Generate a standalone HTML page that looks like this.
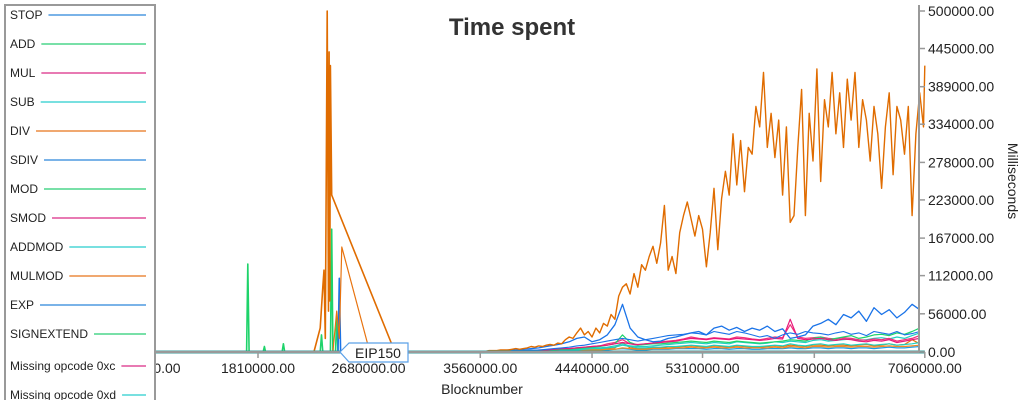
<!DOCTYPE html>
<html><head><meta charset="utf-8"><style>
body{margin:0;width:1024px;height:400px;overflow:hidden;background:#fff;font-family:"Liberation Sans",sans-serif}
svg{position:absolute;left:0;top:0}
</style></head><body>
<svg id="chart" width="1024" height="400">
<text x="512" y="35" text-anchor="middle" font-size="24" font-weight="bold" fill="#333">Time spent</text>
<g id="plot"></g>
<g id="axes"></g>
<g id="legend"></g>
</svg>
<script>
const xTicks=[940000,1810000,2680000,3560000,4440000,5310000,6190000,7060000];
const yTicks=[0,56000,112000,167000,223000,278000,334000,389000,445000,500000];
const legendNames=["STOP","ADD","MUL","SUB","DIV","SDIV","MOD","SMOD","ADDMOD","MULMOD","EXP","SIGNEXTEND","Missing opcode 0xc","Missing opcode 0xd"];
const legendColors=["#7ab3e8","#78e0a8","#e87ab3","#78e0e0","#f0a870"];
// fine grid for DIV (start 3300000, step 30000), values in thousands
const divStart=3300000, divStep=30000;
const divValues=[0,0,0,0,0,0,0,0,1,1,1,2,2,2,3,3,3,4,5,4,5,6,8,7,9,8,10,11,10,13,12,18,22,20,28,35,25,30,22,35,28,42,38,55,48,82,95,100,85,115,95,128,120,140,155,130,160,215,120,140,115,175,200,220,195,170,200,180,125,175,240,150,225,265,230,320,245,310,235,300,290,360,330,410,300,350,285,340,230,330,190,200,300,385,200,350,280,415,250,370,330,410,320,380,300,400,340,410,300,370,340,280,360,320,240,330,380,260,360,340,290,360,200,320,380,330,420];
// early spikes
const spikeBlocks=[940000,2250000,2300000,2320000,2330000,2340000,2355000,2365000,2370000,2375000,2380000,2390000,2888000];
const spikeValues=[0,0,35,95,120,20,500,60,440,75,420,230,0];
const spike2Blocks=[2400000,2430000,2450000,2470000,2690000,3300000];
const spike2Values=[0,60,20,154,0,0];
const greenBlocks=[940000,1720000,1730000,1740000,1850000,1860000,1870000,2000000,2010000,2020000,2300000,2310000,2320000,2380000,2390000,2400000,2420000,2430000,2440000,3300000];
const greenValues=[0,0,129,0,0,8,0,0,12,0,0,25,0,0,180,0,0,50,0,0];
const blueSpikeBlocks=[940000,2440000,2450000,2460000,2470000,3300000];
const blueSpikeValues=[0,0,108,0,0,0];
// coarse grid for small series (start 3300000, step 60000)
const cStart=3300000, cStep=60000;
const stopValues=[0,0,0,1,1,1,2,2,3,3,4,5,6,8,10,12,15,20,22,15,18,25,40,70,35,22,18,15,16,20,22,25,28,30,25,35,38,32,36,30,35,32,38,30,34,20,22,25,38,42,48,40,55,50,60,45,65,55,62,50,58,70,62];
const sdivValues=[0,0,0,0,1,1,1,1,2,2,2,3,3,4,5,6,7,9,10,12,14,16,18,20,18,16,18,20,22,24,25,26,28,27,25,30,28,26,30,28,25,22,24,20,25,28,26,30,28,27,25,28,30,26,28,24,30,28,26,30,25,27,30];
const mulValues=[0,0,0,0,0,1,1,1,1,2,2,2,3,3,4,5,5,6,7,8,9,10,12,14,12,11,12,13,14,15,16,18,20,19,18,20,19,18,20,19,18,17,18,20,19,48,20,18,19,20,18,17,19,18,16,15,17,16,18,14,16,18,20];
const addValues=[0,0,0,0,0,0,1,1,1,1,2,2,2,3,3,4,4,5,6,7,8,10,12,25,14,10,11,12,12,13,14,15,16,15,14,16,15,14,16,15,14,13,14,15,16,18,17,16,20,22,18,20,22,24,20,22,25,26,24,28,26,30,35];
const subValues=[0,0,0,0,0,0,0,1,1,1,1,1,2,2,2,3,3,3,4,5,5,6,7,10,8,6,6,7,7,8,8,9,10,9,8,10,9,8,10,9,8,8,9,10,9,12,10,9,11,12,10,11,12,10,11,12,10,11,12,10,11,12,14];
const modValues=[0,0,0,0,0,0,0,0,1,1,1,1,1,1,2,2,2,2,3,3,3,4,4,6,5,4,4,5,5,5,6,6,7,6,6,7,6,6,7,6,6,6,6,7,6,8,7,6,8,8,7,8,8,7,8,8,7,8,9,8,8,9,10];
const smodValues=[0,0,0,0,0,0,1,1,1,1,2,2,2,3,3,4,5,6,7,8,9,12,14,18,12,10,12,13,15,16,17,19,22,20,19,21,20,19,22,21,19,18,20,22,21,40,22,20,21,22,20,19,21,20,18,17,19,18,20,16,18,20,24];
const addmodValues=[0,0,0,0,0,0,0,0,1,1,1,2,2,2,3,3,4,4,5,6,6,7,9,12,9,8,8,9,10,11,12,13,14,13,12,14,13,12,15,14,13,12,13,15,14,16,15,14,17,18,16,17,18,19,17,18,20,21,19,22,20,24,28];
const mulmodValues=[0,0,0,0,0,0,0,0,0,1,1,1,1,2,2,2,3,3,3,4,4,5,6,14,6,5,5,6,6,7,7,8,9,8,7,9,8,7,9,8,7,7,8,9,8,10,9,8,10,10,9,10,10,9,10,11,9,10,12,10,11,18,12];
const expValues=[0,0,0,0,0,0,0,0,0,0,1,1,1,1,2,2,2,2,3,3,3,3,4,5,4,3,3,4,4,4,5,5,5,5,4,5,5,4,5,5,4,4,5,5,5,6,5,5,6,6,5,6,6,5,6,6,5,6,7,6,6,7,8];

const X0=258, XPX=110.5/870000, Y0=352, YPX=341/500000;
const xs=b=>X0+(b-1810000)*XPX;
const ys=v=>Y0-v*YPX;
const NS="http://www.w3.org/2000/svg";
const plot=document.getElementById('plot');
const axes=document.getElementById('axes');
const leg=document.getElementById('legend');
function mk(tag,attrs,parent){const e=document.createElementNS(NS,tag);for(const k in attrs)e.setAttribute(k,attrs[k]);parent.appendChild(e);return e;}
function line(blocks,vals,scale,color,name,w){
  const d=blocks.map((b,i)=>(i?'L':'M')+xs(b).toFixed(1)+','+ys(vals[i]*scale).toFixed(1)).join('');
  const p=mk('path',{d:d,fill:'none',stroke:color,'stroke-width':w||1.2,'stroke-linejoin':'round'},plot);
  
  
}
function grid(start,step,n){const a=[];for(let i=0;i<n;i++)a.push(Math.min(start+i*step,7060000));return a;}
line(greenBlocks,greenValues,1000,'#1ed36a','add-early-series',1.6);
line(blueSpikeBlocks,blueSpikeValues,1000,'#1a73e8','stop-early-series',1.6);
line(spike2Blocks,spike2Values,1000,'#e8730f','mulmod-early-series',1.2);
line(spikeBlocks,spikeValues,1000,'#e06c00','div-early-series',1.6);
const cg=grid(cStart,cStep,stopValues.length);
line(cg,expValues,1000,'#1a9be8','exp-series',1.2);
line(cg,mulmodValues,1000,'#e8730f','mulmod-series',1.2);
line(cg,modValues,1000,'#f08a24','mod-series',1.2);
line(cg,addmodValues,1000,'#20d0c0','addmod-series',1.2);
line(cg,subValues,1000,'#20d0c0','sub-series',1.2);
line(cg,smodValues,1000,'#f0307a','smod-series',1.2);
line(cg,addValues,1000,'#1ed36a','add-series',1.2);
line(cg,mulValues,1000,'#e8187a','mul-series',1.2);
line(cg,sdivValues,1000,'#1a73e8','sdiv-series',1.1);
line(cg,stopValues,1000,'#1a73e8','stop-series',1.3);
line(grid(divStart,divStep,divValues.length),divValues,1000,'#e06c00','div-series',1.4);
line([940000,7060000],[0,0],1,'#3a9a98','baseline-series',3);

// axes
mk('line',{x1:150,y1:352,x2:919,y2:352,stroke:'#999','stroke-width':2},axes);
mk('line',{x1:919,y1:5,x2:919,y2:352,stroke:'#999','stroke-width':2},axes);
xTicks.forEach(t=>{
  mk('line',{x1:xs(t),y1:352,x2:xs(t),y2:358,stroke:'#999','stroke-width':1.5},axes);
  const tx=mk('text',{x:xs(t),y:373,'text-anchor':'middle','font-size':14,fill:'#222'},axes);
  tx.textContent=t.toFixed(2);
  
  
});
yTicks.forEach(t=>{
  mk('line',{x1:919,y1:ys(t),x2:925,y2:ys(t),stroke:'#999','stroke-width':1.5},axes);
  const tx=mk('text',{x:928,y:ys(t)+5,'font-size':14,fill:'#222'},axes);
  tx.textContent=t.toFixed(2);
  
  
});
const xt=mk('text',{x:482,y:394,'text-anchor':'middle','font-size':14,fill:'#222'},axes);
xt.textContent='Blocknumber';


const yt=mk('text',{x:1008,y:181,'text-anchor':'middle','font-size':14,fill:'#222',transform:'rotate(90 1008 181)'},axes);
yt.textContent='Milliseconds';


// EIP150 callout
const cg2=mk('g',{},axes);


mk('path',{d:'M340,352 L349,343 L408,343 L408,362 L349,362 Z',fill:'#fff',stroke:'#5aa0e8','stroke-width':1.2},cg2);
const et=mk('text',{x:378,y:358,'text-anchor':'middle','font-size':14,fill:'#222'},cg2);
et.textContent='EIP150';

// legend
mk('path',{d:'M5,400 L5,5 L155,5 L155,400',fill:'#fff',stroke:'#999','stroke-width':2},leg);
legendNames.forEach((n,i)=>{
  const y=15+i*29+(i>=12?3:0);
  const g=mk('g',{},leg);
  
  
  const t=mk('text',{x:10,y:y+4,'font-size':12,fill:'#222'},g);
  t.textContent=n;
  const w=t.getComputedTextLength();
  mk('line',{x1:10+w+6,y1:y,x2:146,y2:y,stroke:legendColors[i%5],'stroke-width':2},g);
});
</script>
</body></html>
